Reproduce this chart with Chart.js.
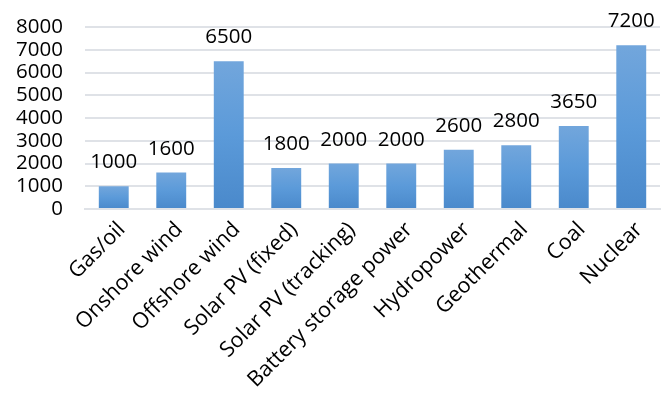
<!DOCTYPE html>
<html>
<head>
<meta charset="utf-8">
<script src="https://cdn.jsdelivr.net/npm/chart.js@4"></script>
<style>
  html, body { margin: 0; padding: 0; background: #fff; }
  #wrap { width: 668px; height: 394px; }
</style>
</head>
<body>
<div id="wrap"><canvas id="myChart" width="668" height="394"></canvas></div>
<script>
var categories = ['Gas/oil', 'Onshore wind', 'Offshore wind', 'Solar PV (fixed)', 'Solar PV (tracking)',
    'Battery storage power', 'Hydropower', 'Geothermal', 'Coal', 'Nuclear'];
var values = [1000, 1600, 6500, 1800, 2000, 2000, 2600, 2800, 3650, 7200];
var yTicks = [0, 1000, 2000, 3000, 4000, 5000, 6000, 7000, 8000];

var FONT = '"Open Sans", sans-serif';

// value labels above bars (no datalabels plugin available)
var valueLabels = {
    id: 'valueLabels',
    afterDatasetsDraw: function(chart) {
        var ctx = chart.ctx;
        var meta = chart.getDatasetMeta(0);
        ctx.save();
        ctx.font = '20.5px ' + FONT;
        ctx.fillStyle = '#000';
        ctx.textAlign = 'center';
        ctx.textBaseline = 'alphabetic';
        meta.data.forEach(function(bar, i) {
            ctx.fillText(String(values[i]), bar.x, bar.y - 18);
        });
        ctx.restore();
    }
};

// pull the top of the plot up to y=27, layout keeps it lower
var plotTop = {
    id: 'plotTop',
    afterLayout: function(chart) {
        try {
            var y = chart.scales.y;
            var area = chart.chartArea;
            var top = 27;
            if (area.top > top) {
                y.top = top;
                y.height = y.bottom - top;
                y.configure();
                area.top = top;
                area.height = area.bottom - top;
            }
        } catch (e) {
            console.log(e);
        }
    }
};

function barGradient(context) {
    var chart = context.chart;
    if (!chart.chartArea) return '#5b9bd5';
    var y = chart.scales.y;
    var top = y.getPixelForValue(context.raw);
    var bottom = y.getPixelForValue(0);
    if (!isFinite(top) || top === bottom) return '#5b9bd5';
    var g = chart.ctx.createLinearGradient(0, top, 0, bottom);
    g.addColorStop(0, '#72a6dc');
    g.addColorStop(0.5, '#5b9ad9');
    g.addColorStop(1, '#4a89cb');
    return g;
}

window.addEventListener('load', function() {
    var ctx = document.getElementById('myChart').getContext('2d');
    new Chart(ctx, {
        type: 'bar',
        data: {
            labels: categories,
            datasets: [{
                data: values,
                backgroundColor: barGradient,
                borderWidth: 0,
                barPercentage: 0.52,
                categoryPercentage: 1
            }]
        },
        options: {
            responsive: false,
            animation: false,
            layout: { autoPadding: false, padding: { top: 20, right: 8, left: 0, bottom: 0 } },
            plugins: {
                legend: { display: false },
                tooltip: { enabled: false }
            },
            scales: {
                x: {
                    grid: { display: false, drawTicks: false },
                    border: { display: true, color: '#dfe2e7', width: 2 },
                    ticks: {
                        color: '#000',
                        font: { family: FONT, size: 21.5 },
                        minRotation: 45,
                        maxRotation: 45,
                        padding: 8,
                        labelOffset: 8,
                        autoSkip: false
                    },
                    afterFit: function(scale) { scale.height = 185; }
                },
                y: {
                    min: 0,
                    max: 8000,
                    afterBuildTicks: function(scale) {
                        scale.ticks = yTicks.map(function(v) { return { value: v }; });
                    },
                    grid: { color: '#dfe2e7', lineWidth: 2, drawTicks: false },
                    border: { display: false },
                    ticks: {
                        color: '#000',
                        font: { family: FONT, size: 20.5 },
                        padding: 22,
                        autoSkip: false,
                        callback: function(v) { return String(v); }
                    },
                    afterFit: function(scale) { scale.width = 85; }
                }
            }
        },
        plugins: [plotTop, valueLabels]
    });
});
</script>
</body>
</html>
